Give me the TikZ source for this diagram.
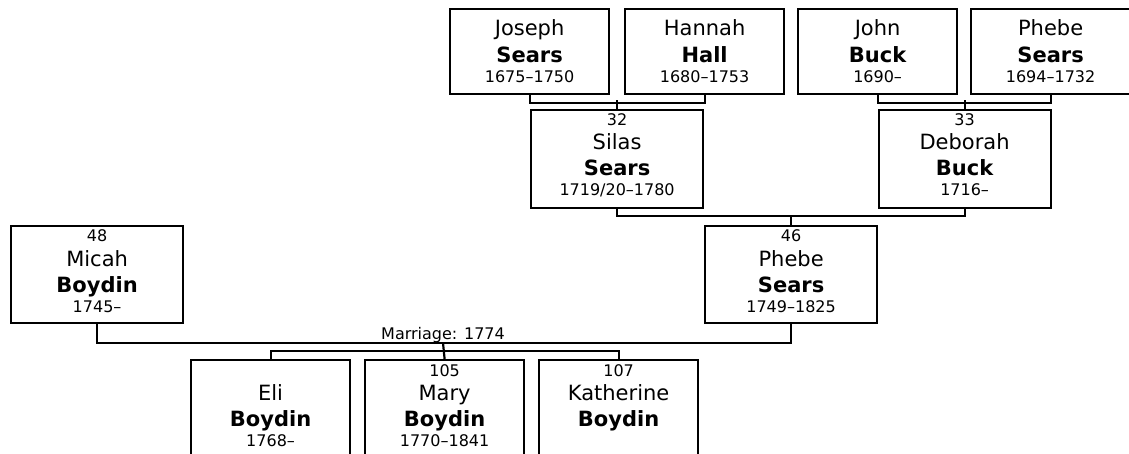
\documentclass[tikz,border=0pt]{standalone}
\usepackage{fontspec}
\setmainfont{DejaVu Sans}
\usetikzlibrary{calc}
\tikzset{
  pbox/.style={draw, line width=2.2pt, rectangle, inner sep=0pt, anchor=north west},
  conn/.style={line width=2.2pt},
  txt/.style={anchor=base, inner sep=0pt},
  nmf/.style={txt, font=\fontsize{21}{21}\selectfont},
  snf/.style={txt, font=\fontsize{21}{21}\selectfont\bfseries},
  dtf/.style={txt, font=\fontsize{16}{16}\selectfont},
}
% top row person (no number line)
\newcommand\toprowperson[6]{%
  \node[pbox, minimum width=159pt, minimum height=85pt] (#1) at (#2) {};
  \node[nmf] (#1-first) at ([yshift=-28pt]#1.north) {#3};
  \node[snf] (#1-last) at ([yshift=-55pt]#1.north) {#4};
  \node[dtf] (#1-dates) at ([yshift=-75pt]#1.north) {#5};
}
% person with number line
\newcommand\numperson[8]{%
  \node[pbox, minimum width=#3, minimum height=#4] (#1) at (#2) {};
  \if\relax\detokenize{#5}\relax\else
    \node[dtf] (#1-num) at ([yshift=-17pt]#1.north) {#5};\fi
  \node[nmf] (#1-first) at ([yshift=-41pt]#1.north) {#6};
  \node[snf] (#1-last) at ([yshift=-67pt]#1.north) {#7};
  \if\relax\detokenize{#8}\relax\else
    \node[dtf] (#1-dates) at ([yshift=-87pt]#1.north) {#8};\fi
}
\begin{document}
\begin{tikzpicture}[x=1pt,y=-1pt]
\useasboundingbox (0,0) rectangle (1129,454);
\clip (0,0) rectangle (1129,454);
% generation 1
\toprowperson{joseph}{449,8}{Joseph}{Sears}{1675–1750}{}
\toprowperson{hannah}{624,8}{Hannah}{Hall}{1680–1753}{}
\toprowperson{john}{797,8}{John}{Buck}{1690–}{}
\toprowperson{phebeA}{970,8}{Phebe}{Sears}{1694–1732}{}
% generation 2
\numperson{silas}{530,109}{172pt}{98pt}{32}{Silas}{Sears}{1719/20–1780}
\numperson{deborah}{877.5,109}{172pt}{98pt}{33}{Deborah}{Buck}{1716–}
% generation 3
\numperson{micah}{10,225}{172pt}{97pt}{48}{Micah}{Boydin}{1745–}
\numperson{phebeB}{704,225}{172pt}{97pt}{46}{Phebe}{Sears}{1749–1825}
% children
\numperson{eli}{190,359}{159pt}{100pt}{}{Eli}{Boydin}{1768–}
\numperson{mary}{364,359}{159pt}{100pt}{105}{Mary}{Boydin}{1770–1841}
\numperson{katherine}{538,359}{159pt}{100pt}{107}{Katherine}{Boydin}{}
% connectors
\draw[conn] (joseph.south) -- ++(0,8) -| (hannah.south);
\draw[conn] (silas.north) -- ++(0,-9);
\draw[conn] (john.south) -- ++(0,8) -| (phebeA.south);
\draw[conn] (deborah.north) -- ++(0,-9);
\draw[conn] (silas.south) -- ++(0,7) -| (deborah.south);
\draw[conn] (phebeB.north) -- ++(0,-10);
\coordinate (marr) at (443,343);
\draw[conn] (micah.south) |- (marr) -| (phebeB.south);
\draw[conn] (marr) -- (mary.north);
\draw[conn] (eli.north) -- ++(0,-8) -| (katherine.north);
\node[dtf] (mlabel) at (443,339) {Marriage: 1774};
\end{tikzpicture}
\end{document}
